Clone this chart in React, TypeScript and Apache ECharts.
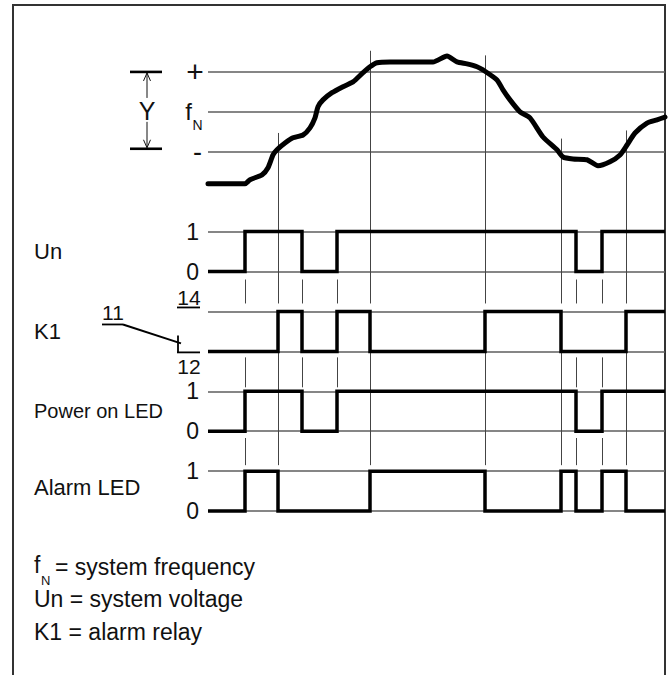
import React, { useEffect, useRef } from "react";
import * as echarts from "echarts";

// ---------------- data ----------------
// time in arbitrary units along the diagram (0 .. tEnd)
const tEnd = 457;

// frequency deviation from fN, in units of half the band Y ("+" = +1, "-" = -1)
const freqTimes = [0, 37, 42, 54, 60, 65, 69, 77, 85, 95, 102, 107, 110, 115, 124, 135, 145, 155, 162, 169, 182, 225, 239, 249, 259, 269, 275, 289, 295, 302, 312, 322, 335, 349, 355, 365, 379, 390, 402, 412, 419, 427, 439, 449, 457];
const freqDev = [-1.8, -1.8, -1.7, -1.58, -1.4, -1.08, -0.95, -0.78, -0.65, -0.58, -0.4, -0.15, 0.13, 0.3, 0.48, 0.63, 0.75, 0.98, 1.13, 1.23, 1.25, 1.25, 1.4, 1.25, 1.2, 1.13, 1.05, 0.8, 0.55, 0.3, 0.0, -0.15, -0.63, -0.95, -1.13, -1.18, -1.2, -1.35, -1.25, -1.08, -0.83, -0.53, -0.28, -0.2, -0.13];

// digital signals: state from the given time onwards
const unTimes = [0, 37, 94, 129, 368, 394, 457];
const unState = [0, 1, 0, 1, 0, 1, 1];
const k1Times = [0, 70, 94, 129, 162, 277, 353, 418, 457];
const k1State = [0, 1, 0, 1, 0, 1, 0, 1, 1]; // 0 = contact 12, 1 = contact 14
const powerTimes = [0, 37, 94, 129, 368, 394, 457];
const powerState = [0, 1, 0, 1, 0, 1, 1];
const alarmTimes = [0, 37, 70, 162, 277, 353, 368, 394, 418, 457];
const alarmState = [0, 1, 0, 1, 0, 1, 0, 1, 0, 0];

// times at which the frequency leaves / re-enters the band (K1 switches)
const switchTimes = [70, 162, 277, 353, 418];

// tick labels
const stateLabels = ["0", "1"];
const contactLabels = ["12", "14"];
const bandLabels = ["-", "f", "+"];
const channelNames = ["Un", "K1", "Power on LED", "Alarm LED"];
const legendLines = ["= system frequency", "Un = system voltage", "K1 = alarm relay"];

// ---------------- layout (levels on the shared vertical axis) ----------------
const FREQ_CENTER = 10;
const UN_BASE = 6;
const K1_BASE = 4;
const POWER_BASE = 2;
const ALARM_BASE = 0;

const FONT = "'Liberation Sans', Arial, sans-serif";

function interp(ts: number[], vs: number[], t: number) {
  for (let i = 0; i < ts.length - 1; i++) {
    if (t >= ts[i] && t <= ts[i + 1]) {
      const f = (t - ts[i]) / (ts[i + 1] - ts[i] || 1);
      return vs[i] + f * (vs[i + 1] - vs[i]);
    }
  }
  return vs[vs.length - 1];
}

export default function App() {
  const ref = useRef<HTMLDivElement>(null);

  useEffect(() => {
    const chart = echarts.init(ref.current!, null, { renderer: "svg" });

    const pairs = (ts: number[], vs: number[], base: number) =>
      ts.map((t, i) => [t, base + vs[i]]);

    const refLevels = [
      FREQ_CENTER + 1, FREQ_CENTER, FREQ_CENTER - 1,
      UN_BASE + 1, UN_BASE, K1_BASE + 1, K1_BASE,
      POWER_BASE + 1, POWER_BASE, ALARM_BASE + 1, ALARM_BASE,
    ];

    const connectors: any[] = [];
    switchTimes.forEach((t) => {
      const dev = interp(freqTimes, freqDev, t);
      connectors.push({ coords: [[t, FREQ_CENTER + dev + 0.4], [t, K1_BASE + 1.2]] });
      connectors.push({ coords: [[t, K1_BASE], [t, ALARM_BASE + 1.15]] });
    });
    const unEdges = unTimes.filter((t, i) => i > 0 && unState[i] !== unState[i - 1]);
    unEdges.forEach((t) => {
      connectors.push({ coords: [[t, UN_BASE - 0.2], [t, K1_BASE + 1.2]] });
      connectors.push({ coords: [[t, K1_BASE - 0.15], [t, POWER_BASE + 1.1]] });
      if (alarmTimes.includes(t) && !switchTimes.includes(t)) {
        connectors.push({ coords: [[t, POWER_BASE - 0.17], [t, ALARM_BASE + 1.15]] });
      }
    });

    const signalStyle = { color: "#000", width: 3.5, join: "miter" as const };

    const levelLabel = (v: number) => {
      for (const b of [UN_BASE, POWER_BASE, ALARM_BASE]) {
        if (v === b) return stateLabels[0];
        if (v === b + 1) return stateLabels[1];
      }
      return "";
    };

    chart.setOption({
      animation: false,
      backgroundColor: "#fff",
      grid: { left: 208, right: 4, top: 32, bottom: 124 },
      xAxis: {
        type: "value", min: 0, max: tEnd,
        axisLine: { show: false }, axisTick: { show: false },
        axisLabel: { show: false }, splitLine: { show: false },
      },
      yAxis: {
        type: "value", min: -1, max: 12, interval: 1,
        axisLine: { show: false }, axisTick: { show: false }, splitLine: { show: false },
        axisLabel: {
          margin: 9, fontSize: 23, color: "#111", fontFamily: FONT,
          formatter: (v: number) => levelLabel(v),
        },
      },
      series: [
        {
          type: "lines", coordinateSystem: "cartesian2d", silent: true, z: 1,
          data: refLevels.map((l) => ({ coords: [[0, l], [tEnd, l]] })),
          lineStyle: { color: "#5e5e5e", width: 1.5, opacity: 1 },
        },
        {
          type: "lines", coordinateSystem: "cartesian2d", silent: true, z: 1,
          data: connectors,
          lineStyle: { color: "#444", width: 1, opacity: 1 },
        },
        {
          type: "line", name: "frequency", clip: false, z: 3,
          data: pairs(freqTimes, freqDev, FREQ_CENTER),
          smooth: 0.2, symbol: "none",
          lineStyle: { color: "#000", width: 5, cap: "round", join: "round" },
        },
        { type: "line", name: "Un", step: "end", symbol: "none", z: 3, data: pairs(unTimes, unState, UN_BASE), lineStyle: signalStyle },
        { type: "line", name: "K1", step: "end", symbol: "none", z: 3, data: pairs(k1Times, k1State, K1_BASE), lineStyle: signalStyle },
        { type: "line", name: "Power on LED", step: "end", symbol: "none", z: 3, data: pairs(powerTimes, powerState, POWER_BASE), lineStyle: signalStyle },
        { type: "line", name: "Alarm LED", step: "end", symbol: "none", z: 3, data: pairs(alarmTimes, alarmState, ALARM_BASE), lineStyle: signalStyle },
      ],
    });

    const Y = (lvl: number) => (chart.convertToPixel({ gridIndex: 0 }, [0, lvl]) as number[])[1];
    const txt = (text: string, x: number, y: number, size: number, align = "left") => ({
      type: "text", x, y, silent: true,
      style: { text, fontSize: size, fontFamily: FONT, fill: "#111", align, verticalAlign: "middle" },
    });
    const ln = (x1: number, y1: number, x2: number, y2: number, w = 1, c = "#111") => ({
      type: "line", silent: true, shape: { x1, y1, x2, y2 }, style: { stroke: c, lineWidth: w },
    });

    const yPlus = Y(FREQ_CENTER + 1);
    const yMinus = Y(FREQ_CENTER - 1);
    const yFn = Y(FREQ_CENTER);
    const y14 = Y(K1_BASE + 1);
    const y12 = Y(K1_BASE);

    chart.setOption({
      graphic: [
        // frame
        { type: "polyline", silent: true, shape: { points: [[13, 675], [13, 5], [665, 5], [665, 675]] }, style: { stroke: "#333", lineWidth: 2, fill: "none" } },
        // Y bracket
        ln(130, yPlus, 162, yPlus, 2.6, "#000"),
        ln(130, yMinus - 3, 162, yMinus - 3, 2.6, "#000"),
        ln(147, yPlus + 1, 147, yPlus + 26),
        ln(147, yFn + 10, 147, yMinus - 4),
        { type: "polyline", silent: true, shape: { points: [[143.5, yPlus + 9], [147, yPlus + 1], [150.5, yPlus + 9]] }, style: { stroke: "#111", lineWidth: 1, fill: "none" } },
        { type: "polyline", silent: true, shape: { points: [[143.5, yMinus - 12], [147, yMinus - 4], [150.5, yMinus - 12]] }, style: { stroke: "#111", lineWidth: 1, fill: "none" } },
        txt("Y", 147, yFn - 1, 25, "center"),
        // band labels
        txt(bandLabels[2], 195, yPlus, 30, "center"),
        txt(bandLabels[0], 197.5, yMinus, 27, "center"),
        txt(bandLabels[1], 188.5, yFn, 24, "center"),
        txt("N", 197.5, yFn + 13, 14, "center"),
        // channel names
        txt(channelNames[0], 34, Y(UN_BASE + 0.5), 22),
        txt(channelNames[1], 34, Y(K1_BASE + 0.5), 22),
        txt(channelNames[2], 34, Y(POWER_BASE + 0.5), 20),
        txt(channelNames[3], 34, Y(ALARM_BASE + 0.58), 22),
        // K1 contact symbol
        txt(contactLabels[1], 189, y14 - 14, 21, "center"),
        ln(177, y14 - 4, 200, y14 - 4, 1.8, "#000"),
        txt(contactLabels[0], 189, y12 + 15, 21, "center"),
        ln(177, y12 + 1, 200, y12 + 1, 1.8, "#000"),
        txt("11", 113, y14 + 1, 21, "center"),
        ln(102, y14 + 13, 123, y14 + 13, 1.8, "#000"),
        ln(123, y14 + 13, 181, y12 - 8, 2, "#000"),
        ln(178, y12 - 16, 178, y12 + 1, 1.8, "#000"),
        // legend
        txt(bandLabels[1], 34, 565, 23),
        txt("N", 41, 580, 13),
        txt(legendLines[0], 55, 567, 23),
        txt(legendLines[1], 34, 599, 23),
        txt(legendLines[2], 34, 632, 23),
      ],
    });

    return () => chart.dispose();
  }, []);

  return (
    <div
      ref={ref}
      style={{ position: "absolute", left: 0, top: 0, width: 669, height: 675, background: "#fff" }}
    />
  );
}
